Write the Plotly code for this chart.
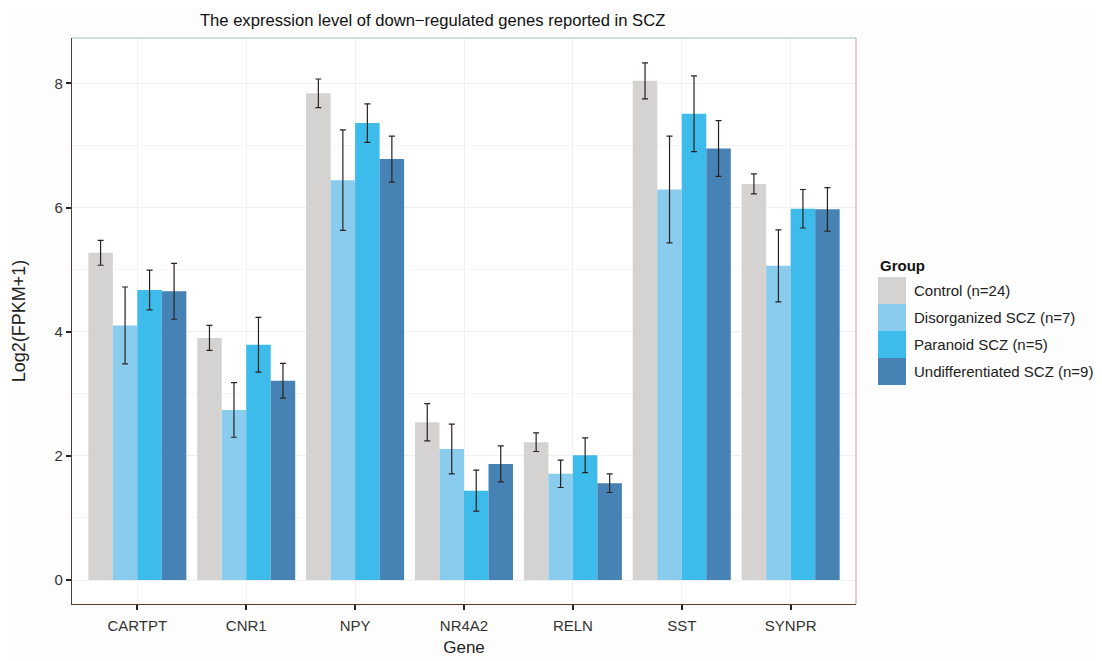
import plotly.graph_objects as go

genes = ["CARTPT", "CNR1", "NPY", "NR4A2", "RELN", "SST", "SYNPR"]
groups = ["Control (n=24)", "Disorganized SCZ (n=7)", "Paranoid SCZ (n=5)", "Undifferentiated SCZ (n=9)"]
colors = ["#D4D3D1", "#8ACCEE", "#3DBBEA", "#4682B4"]

control = [5.27, 3.90, 7.84, 2.54, 2.22, 8.04, 6.38]
control_err = [0.20, 0.20, 0.23, 0.30, 0.15, 0.29, 0.16]
disorganized = [4.10, 2.74, 6.44, 2.11, 1.71, 6.29, 5.06]
disorganized_err = [0.62, 0.44, 0.81, 0.40, 0.22, 0.86, 0.58]
paranoid = [4.67, 3.79, 7.36, 1.44, 2.01, 7.51, 5.98]
paranoid_err = [0.32, 0.44, 0.31, 0.33, 0.28, 0.61, 0.31]
undifferentiated = [4.65, 3.21, 6.78, 1.87, 1.56, 6.95, 5.97]
undifferentiated_err = [0.45, 0.28, 0.37, 0.29, 0.15, 0.45, 0.35]

values = [control, disorganized, paranoid, undifferentiated]
errors = [control_err, disorganized_err, paranoid_err, undifferentiated_err]

W, H = 1102, 661
ML, MR, MT, MB = 64, 254, 30, 65
PW, PH = W - ML - MR, H - MT - MB

fig = go.Figure()
for name, col, v, e in zip(groups, colors, values, errors):
    fig.add_trace(go.Bar(
        x=genes, y=v, name=name, marker=dict(color=col, line=dict(width=0)),
        error_y=dict(type="data", array=e, visible=True, color="#2a2220",
                     thickness=1.2, width=3),
        showlegend=False,
    ))

fig.update_layout(
    barmode="group", bargap=0.1, bargroupgap=0,
    width=W, height=H,
    margin=dict(l=ML, r=MR, t=MT, b=MB, autoexpand=False),
    paper_bgcolor="#FDFDFD", plot_bgcolor="#FFFFFF",
    font=dict(family="Liberation Sans, Arial, sans-serif", size=15, color="#333333"),
    title=dict(text="The expression level of down\u2212regulated genes reported in SCZ",
               x=0.46, xref="paper", xanchor="center", y=1 - 12 / H, yanchor="middle",
               font=dict(size=16.6, color="#111111")),
)

fig.update_xaxes(
    title=dict(text="Gene", font=dict(size=17, color="#222222"), standoff=8),
    range=[-0.6, 6.6], showgrid=True, gridcolor="#F1F1F1", gridwidth=1,
    showline=True, linecolor="#5a3a2a", linewidth=1.2,
    ticks="outside", ticklen=5, tickcolor="#222222", tickwidth=1.5,
    tickfont=dict(size=15, color="#333333"), zeroline=False,
    ticklabelstandoff=3, automargin=False,
)
fig.update_yaxes(
    title=dict(text="Log2(FPKM+1)", font=dict(size=18, color="#222222"), standoff=24),
    range=[-0.386, 8.73], tickvals=[0, 2, 4, 6, 8], showgrid=True,
    gridcolor="#F1F1F1", gridwidth=1,
    minor=dict(tickvals=[1, 3, 5, 7], showgrid=True, gridcolor="#F6F6F6"),
    showline=True, linecolor="#5a3a2a", linewidth=1.2,
    ticks="outside", ticklen=5, tickcolor="#222222", tickwidth=1.5,
    tickfont=dict(size=15, color="#333333"), zeroline=False, automargin=False,
)

# panel border (top / right lighter)
fig.add_shape(type="line", xref="paper", yref="paper", x0=0, x1=1, y0=1, y1=1,
              line=dict(color="#9FC3C8", width=1))
fig.add_shape(type="line", xref="paper", yref="paper", x0=1, x1=1, y0=0, y1=1,
              line=dict(color="#C9A090", width=1))

# custom legend (large key blocks like ggplot)
def px_x(px):
    return (px - ML) / PW

def px_y(py):
    return (H - MB - py) / PH

key_x0, key_w, key_h, key_top = 870, 28, 27, 269
fig.add_annotation(text="<b>Group</b>", xref="paper", yref="paper",
                   x=px_x(key_x0), y=px_y(key_top - 12), xanchor="left", yanchor="middle",
                   showarrow=False, font=dict(size=15, color="#111111"))
for i, (name, col) in enumerate(zip(groups, colors)):
    y0 = key_top + i * key_h
    fig.add_shape(type="rect", xref="paper", yref="paper",
                  x0=px_x(key_x0), x1=px_x(key_x0 + key_w),
                  y0=px_y(y0 + key_h), y1=px_y(y0),
                  fillcolor=col, line=dict(width=0), layer="above")
    fig.add_annotation(text=name, xref="paper", yref="paper",
                       x=px_x(key_x0 + key_w + 6), y=px_y(y0 + key_h / 2),
                       xanchor="left", yanchor="middle", showarrow=False,
                       font=dict(size=15, color="#222222"))

fig.write_html("out.html")
